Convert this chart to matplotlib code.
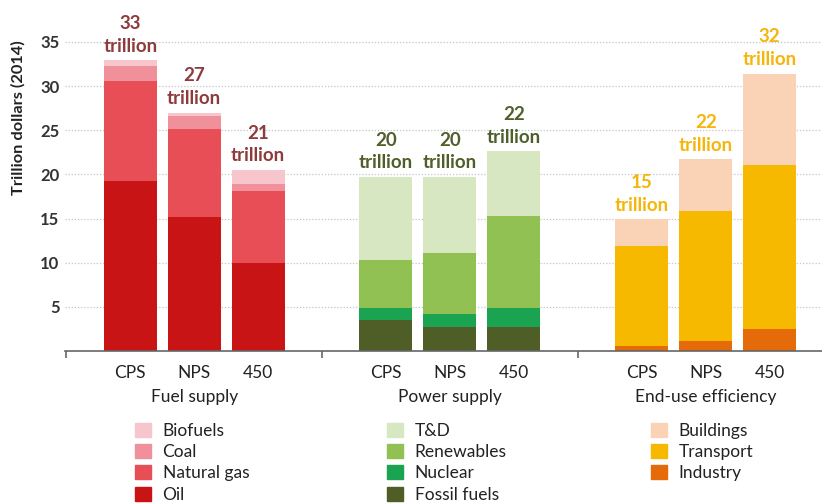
import matplotlib
matplotlib.use("Agg")
import matplotlib.pyplot as plt
import matplotlib.patches as mpatches
import numpy as np

plt.rcParams["font.family"] = ["Lato", "DejaVu Sans"]

# ---------------- data ----------------
scenarios = ["CPS", "NPS", "450"]
groups = ["Fuel supply", "Power supply", "End-use efficiency"]

# fuel supply (bottom -> top)
oil = [19.2, 15.2, 10.0]
natural_gas = [11.4, 9.9, 8.1]
coal = [1.7, 1.5, 0.8]
biofuels = [0.6, 0.4, 1.6]

# power supply
fossil_fuels = [3.5, 2.7, 2.7]
nuclear = [1.4, 1.5, 2.2]
renewables = [5.4, 6.9, 10.4]
t_and_d = [9.4, 8.6, 7.3]

# end-use efficiency
industry = [0.6, 1.1, 2.5]
transport = [11.3, 14.7, 18.6]
buildings = [3.0, 5.9, 10.3]

fuel_totals = ["33", "27", "21"]
power_totals = ["20", "20", "22"]
enduse_totals = ["15", "22", "32"]

yticks = [5, 10, 15, 20, 25, 30, 35]

# ---------------- style ----------------
FUEL_COLORS = {"Oil": "#c81414", "Natural gas": "#e84e55",
               "Coal": "#f0909a", "Biofuels": "#f6c6cc"}
POWER_COLORS = {"Fossil fuels": "#4f5e26", "Nuclear": "#1aa350",
                "Renewables": "#92c153", "T&D": "#d7e7c1"}
ENDUSE_COLORS = {"Industry": "#e56b0a", "Transport": "#f7b900",
                 "Buildings": "#fad2b6"}
LABEL_COLORS = ["#8e3b3b", "#4f5f2a", "#f5b50a"]
TEXT = "#222222"

fig = plt.figure(figsize=(8.22, 5.04), dpi=100)
ax = fig.add_axes([65 / 822, 153 / 504, 757 / 822, 351 / 504])

width = 0.83
group_x = [np.arange(3) + 4 * g for g in range(3)]

stacks = [
    (group_x[0], [("Oil", oil), ("Natural gas", natural_gas),
                  ("Coal", coal), ("Biofuels", biofuels)], FUEL_COLORS),
    (group_x[1], [("Fossil fuels", fossil_fuels), ("Nuclear", nuclear),
                  ("Renewables", renewables), ("T&D", t_and_d)], POWER_COLORS),
    (group_x[2], [("Industry", industry), ("Transport", transport),
                  ("Buildings", buildings)], ENDUSE_COLORS),
]
total_labels = [fuel_totals, power_totals, enduse_totals]

for g, (xs, series, colors) in enumerate(stacks):
    bottom = np.zeros(3)
    for name, vals in series:
        ax.bar(xs, vals, width, bottom=bottom, color=colors[name],
               edgecolor="none", zorder=2)
        bottom = bottom + np.array(vals)
    for x, top, lab in zip(xs, bottom, total_labels[g]):
        ax.text(x, top + 1.0, f"{lab}\ntrillion", ha="center", va="baseline",
                fontsize=13.5, fontweight="bold", color=LABEL_COLORS[g],
                linespacing=1.4, zorder=3)

# axes styling
ax.set_xlim(-1.02, 10.82)
ax.set_ylim(0, 39.75)
for s in ["left", "right", "top"]:
    ax.spines[s].set_visible(False)
ax.spines["bottom"].set_color("#666666")
ax.spines["bottom"].set_linewidth(1.2)

ax.set_yticks(yticks)
ax.set_yticklabels([str(v) for v in yticks], fontsize=12,
                   fontweight="bold", color="#333333")
ax.tick_params(axis="y", length=0, pad=4)
ax.grid(axis="y", linestyle=(0, (1, 1.5)), color="#c4c4c4", linewidth=0.9,
        zorder=0)

# separator ticks
ax.set_xticks([-1, 3, 7])
ax.set_xticklabels([])
ax.tick_params(axis="x", which="major", length=5, width=1.2, color="#666666",
               direction="out")
all_x = np.concatenate(group_x)
ax.set_xticks(all_x, minor=True)
ax.set_xticklabels(scenarios * 3, minor=True, fontsize=12.5, color=TEXT)
ax.tick_params(axis="x", which="minor", length=0, pad=10)

for xs, name in zip(group_x, groups):
    ax.text(xs[1], -0.13, name, transform=ax.get_xaxis_transform(),
            ha="center", va="center", fontsize=12.5, color=TEXT)

fig.text(18 / 822, 1 - 118 / 504, "Trillion dollars (2014)", rotation=90,
         ha="center", va="center", fontsize=11.8, fontweight="bold",
         color="#222222")

# legends
legend_specs = [
    (FUEL_COLORS, ["Biofuels", "Coal", "Natural gas", "Oil"], 135 / 822),
    (POWER_COLORS, ["T&D", "Renewables", "Nuclear", "Fossil fuels"], 387 / 822),
    (ENDUSE_COLORS, ["Buildings", "Transport", "Industry"], 651 / 822),
]
for colors, names, x0 in legend_specs:
    handles = [mpatches.Patch(color=colors[n], label=n) for n in names]
    fig.legend(handles=handles, loc="upper left",
               bbox_to_anchor=(x0, 1 - 423 / 504), frameon=False,
               fontsize=12.5, handlelength=0.9, handleheight=0.85,
               handletextpad=0.69, labelspacing=0.3, borderaxespad=0,
               borderpad=0, labelcolor=TEXT)

fig.savefig("out.png", dpi=100)
